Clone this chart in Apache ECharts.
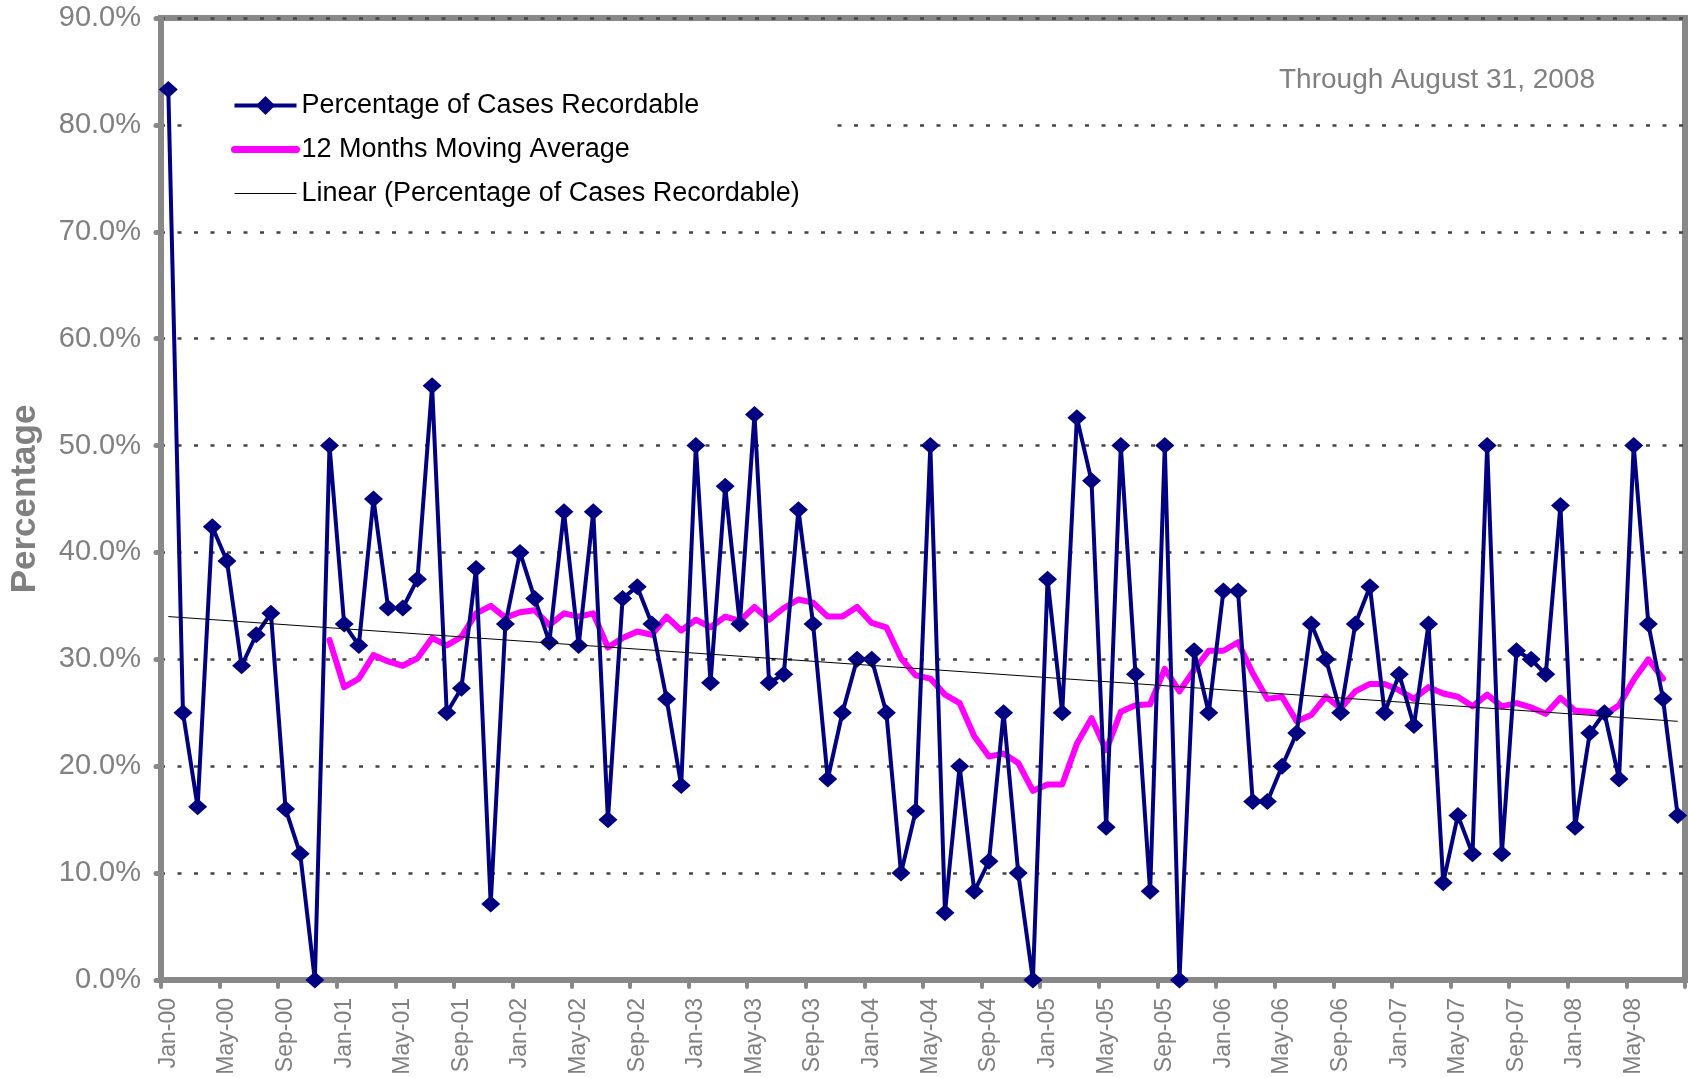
<!DOCTYPE html>
<html>
<head>
<meta charset="utf-8">
<script src="https://cdn.jsdelivr.net/npm/echarts@6/dist/echarts.min.js"></script>
<style>
  html, body { margin: 0; padding: 0; background: #fff; }
  #main { width: 1688px; height: 1078px; }
</style>
</head>
<body>
<div id="main"></div>
<script>
  // month labels Jan-00 .. Aug-08
  var monthNames = ['Jan', 'Feb', 'Mar', 'Apr', 'May', 'Jun', 'Jul', 'Aug', 'Sep', 'Oct', 'Nov', 'Dec'];
  var years = ['00', '01', '02', '03', '04', '05', '06', '07', '08'];
  var categories = [];
  years.forEach(function (y, yi) {
    monthNames.forEach(function (m, mi) {
      if (yi === 8 && mi > 7) return;
      categories.push(m + '-' + y);
    });
  });

  // percentage of cases recordable, per month
  var pctRecordable = [
    83.3, 25.0, 16.2, 42.4, 39.2, 29.4, 32.3, 34.3, 16.0, 11.8, 0, 50.0,
    33.3, 31.3, 45.0, 34.8, 34.8, 37.5, 55.6, 25.0, 27.3, 38.5, 7.1, 33.3,
    40.0, 35.7, 31.6, 43.8, 31.3, 43.8, 15.0, 35.7, 36.8, 33.3, 26.3, 18.2,
    50.0, 27.8, 46.2, 33.3, 52.9, 27.8, 28.6, 44.0, 33.3, 18.8, 25.0, 30.0,
    30.0, 25.0, 10.0, 15.8, 50.0, 6.3, 20.0, 8.3, 11.1, 25.0, 10.0, 0,
    37.5, 25.0, 52.6, 46.7, 14.3, 50.0, 28.6, 8.3, 50.0, 0, 30.8, 25.0,
    36.4, 36.4, 16.7, 16.7, 20.0, 23.1, 33.3, 30.0, 25.0, 33.3, 36.8, 25.0,
    28.6, 23.8, 33.3, 9.1, 15.4, 11.8, 50.0, 11.8, 30.8, 30.0, 28.6, 44.4,
    14.3, 23.1, 25.0, 18.8, 50.0, 33.3, 26.3, 15.4
  ];

  // 12 months moving average (starts Dec-00, ends Jul-08)
  var movingAvg = [
    null, null, null, null, null, null, null, null, null, null, null, 31.8,
    27.4, 28.2, 30.4, 29.8, 29.4, 30.1, 32.0, 31.3, 32.1, 34.3, 35.0, 33.9,
    34.4, 34.6, 33.2, 34.3, 34.0, 34.3, 31.1, 32.0, 32.6, 32.3, 34.0, 32.7,
    33.7, 33.0, 34.0, 33.6, 34.9, 33.7, 34.8, 35.6, 35.3, 34.0, 34.0, 34.9,
    33.4, 33.0, 30.1, 28.5, 28.2, 26.7, 25.9, 22.8, 20.9, 21.2, 20.3, 17.7,
    18.3, 18.3, 22.1, 24.5, 21.5, 25.1, 25.7, 25.8, 29.1, 27.0, 29.0, 30.8,
    30.8, 31.6, 28.7, 26.3, 26.5, 24.2, 24.8, 26.5, 25.4, 27.0, 27.7, 27.7,
    27.1, 26.3, 27.4, 26.8, 26.5, 25.6, 26.7, 25.6, 25.9, 25.5, 24.9, 26.4,
    25.2, 25.1, 24.8, 25.7, 28.1, 30.0, 28.2, null
  ];

  // linear trend end points
  var trendStart = 34.0;
  var trendEnd = 24.2;

  var font = '"Liberation Sans", Arial, sans-serif';
  var gray = '#808080';

  var trendData = categories.map(function (c, i) {
    if (i === 0) return trendStart;
    if (i === categories.length - 1) return trendEnd;
    return null;
  });

  var myChart = echarts.init(document.getElementById('main'));
  var option = {
    animation: false,
    backgroundColor: '#fff',
    title: {
      text: 'Through August 31, 2008',
      right: 88,
      top: 61,
      textStyle: { fontFamily: font, fontSize: 28, fontWeight: 'normal', color: gray }
    },
    legend: {
      orient: 'vertical',
      left: 190,
      top: 80,
      padding: [12, 34, 12, 41],
      backgroundColor: '#fff',
      itemWidth: 62,
      itemHeight: 24,
      itemGap: 17,
      textStyle: { fontFamily: font, fontSize: 27, color: '#000' },
      data: [
        {
          name: 'Percentage of Cases Recordable',
          lineStyle: { width: 4, color: '#000080' },
          itemStyle: { color: '#000080' }
        },
        {
          name: '12 Months Moving Average',
          lineStyle: { width: 7, color: '#FF00FF', cap: 'round' },
          itemStyle: { opacity: 0 }
        },
        {
          name: 'Linear (Percentage of Cases Recordable)',
          lineStyle: { width: 1, color: '#000' },
          itemStyle: { opacity: 0 }
        }
      ]
    },
    grid: {
      left: 159,
      right: 3,
      top: 18,
      bottom: 98,
      show: true,
      borderWidth: 6,
      borderColor: '#888',
      backgroundColor: 'transparent'
    },
    xAxis: {
      type: 'category',
      data: categories,
      boundaryGap: true,
      axisLine: { show: true, lineStyle: { color: '#888', width: 6 } },
      axisTick: { show: true, interval: 3, length: 7, lineStyle: { color: '#888', width: 4, cap: 'round' } },
      axisLabel: {
        interval: 3,
        rotate: 90,
        margin: 18,
        fontFamily: font,
        fontSize: 23,
        color: gray
      },
      splitLine: { show: false }
    },
    yAxis: {
      type: 'value',
      min: 0,
      max: 90,
      interval: 10,
      name: 'Percentage',
      nameLocation: 'middle',
      nameGap: 118,
      nameTextStyle: { fontFamily: font, fontSize: 35, fontWeight: 'bold', color: gray },
      axisLine: { show: true, lineStyle: { color: '#888', width: 6 } },
      axisTick: { show: true, length: 5, lineStyle: { color: '#888', width: 5, cap: 'round' } },
      axisLabel: {
        margin: 20,
        fontFamily: font,
        fontSize: 29,
        color: gray,
        formatter: function (v) { return v.toFixed(1) + '%'; }
      },
      splitLine: {
        show: true,
        lineStyle: { color: '#444', width: 2.5, type: [4, 12.5] }
      }
    },
    series: [
      {
        name: '12 Months Moving Average',
        type: 'line',
        data: movingAvg,
        symbol: 'none',
        z: 2,
        lineStyle: { color: '#FF00FF', width: 6, cap: 'round', join: 'round' },
        itemStyle: { color: '#FF00FF' }
      },
      {
        name: 'Percentage of Cases Recordable',
        type: 'line',
        data: pctRecordable,
        symbol: 'diamond',
        symbolSize: [19, 17],
        showAllSymbol: true,
        z: 3,
        lineStyle: { color: '#000080', width: 4 },
        itemStyle: { color: '#000080' }
      },
      {
        name: 'Linear (Percentage of Cases Recordable)',
        type: 'line',
        data: trendData,
        connectNulls: true,
        symbol: 'none',
        z: 4,
        lineStyle: { color: '#000', width: 1 },
        itemStyle: { color: '#000' }
      }
    ]
  };
  myChart.setOption(option);
</script>
</body>
</html>
